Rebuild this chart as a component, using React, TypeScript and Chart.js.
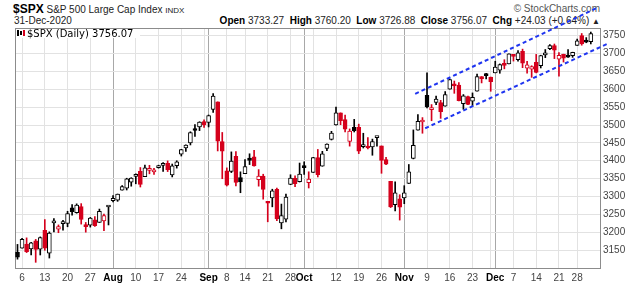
import React, { useEffect, useRef } from 'react';
import { Chart, registerables } from 'chart.js';

Chart.register(...registerables);

// ---- data (S&P 500, daily, Jul 2 – Dec 31 2020) ----
const PREV_CLOSE = 3115.86;

const dates = [
  'Jul 2', 'Jul 6', 'Jul 7', 'Jul 8', 'Jul 9', 'Jul 10', 'Jul 13', 'Jul 14', 'Jul 15', 'Jul 16', 'Jul 17',
  'Jul 20', 'Jul 21', 'Jul 22', 'Jul 23', 'Jul 24', 'Jul 27', 'Jul 28', 'Jul 29', 'Jul 30', 'Jul 31',
  'Aug 3', 'Aug 4', 'Aug 5', 'Aug 6', 'Aug 7', 'Aug 10', 'Aug 11', 'Aug 12', 'Aug 13', 'Aug 14',
  'Aug 17', 'Aug 18', 'Aug 19', 'Aug 20', 'Aug 21', 'Aug 24', 'Aug 25', 'Aug 26', 'Aug 27', 'Aug 28', 'Aug 31',
  'Sep 1', 'Sep 2', 'Sep 3', 'Sep 4', 'Sep 8', 'Sep 9', 'Sep 10', 'Sep 11', 'Sep 14', 'Sep 15', 'Sep 16',
  'Sep 17', 'Sep 18', 'Sep 21', 'Sep 22', 'Sep 23', 'Sep 24', 'Sep 25', 'Sep 28', 'Sep 29', 'Sep 30',
  'Oct 1', 'Oct 2', 'Oct 5', 'Oct 6', 'Oct 7', 'Oct 8', 'Oct 9', 'Oct 12', 'Oct 13', 'Oct 14', 'Oct 15',
  'Oct 16', 'Oct 19', 'Oct 20', 'Oct 21', 'Oct 22', 'Oct 23', 'Oct 26', 'Oct 27', 'Oct 28', 'Oct 29', 'Oct 30',
  'Nov 2', 'Nov 3', 'Nov 4', 'Nov 5', 'Nov 6', 'Nov 9', 'Nov 10', 'Nov 11', 'Nov 12', 'Nov 13', 'Nov 16',
  'Nov 17', 'Nov 18', 'Nov 19', 'Nov 20', 'Nov 23', 'Nov 24', 'Nov 25', 'Nov 27', 'Nov 30',
  'Dec 1', 'Dec 2', 'Dec 3', 'Dec 4', 'Dec 7', 'Dec 8', 'Dec 9', 'Dec 10', 'Dec 11', 'Dec 14', 'Dec 15',
  'Dec 16', 'Dec 17', 'Dec 18', 'Dec 21', 'Dec 22', 'Dec 23', 'Dec 24', 'Dec 28', 'Dec 29', 'Dec 30', 'Dec 31',
];

const opens = [
  3143.64, 3155.29, 3166.44, 3153.07, 3176.17, 3152.47, 3205.08, 3141.11, 3225.98, 3208.36, 3224.21,
  3224.29, 3268.52, 3254.86, 3271.64, 3218.58, 3219.84, 3234.27, 3227.22, 3231.76, 3270.45,
  3288.26, 3289.92, 3317.37, 3323.17, 3340.05, 3356.04, 3370.34, 3355.46, 3372.95, 3368.66,
  3380.86, 3387.04, 3392.51, 3360.48, 3386.01, 3418.09, 3435.95, 3449.97, 3485.14, 3494.69, 3509.73,
  3507.44, 3543.76, 3564.74, 3453.6, 3371.88, 3369.82, 3412.56, 3352.7, 3363.56, 3407.73, 3411.23,
  3346.86, 3357.38, 3285.57, 3295.75, 3320.11, 3226.14, 3236.66, 3333.9, 3350.92, 3341.21,
  3385.87, 3338.94, 3367.27, 3408.74, 3384.56, 3434.28, 3459.67, 3500.02, 3534.01, 3515.47, 3453.72,
  3493.5, 3493.66, 3439.38, 3439.91, 3438.5, 3464.9, 3441.42, 3403.15, 3342.48, 3277.17, 3293.59,
  3296.2, 3336.25, 3406.46, 3485.74, 3508.34, 3583.04, 3543.26, 3563.22, 3562.67, 3552.57, 3600.16,
  3610.31, 3612.09, 3559.41, 3579.31, 3566.82, 3594.52, 3635.5, 3638.55, 3634.18,
  3645.87, 3653.78, 3668.28, 3670.94, 3694.73, 3683.05, 3705.98, 3659.13, 3656.08, 3675.27, 3666.41,
  3696.25, 3713.65, 3722.39, 3684.28, 3698.08, 3693.42, 3694.03, 3723.03, 3750.01, 3736.19, 3733.27,
];

const highs = [
  3165.81, 3182.59, 3184.15, 3171.8, 3179.78, 3186.82, 3235.32, 3200.95, 3238.28, 3220.39, 3233.52,
  3258.61, 3277.29, 3279.32, 3279.99, 3227.26, 3241.43, 3243.72, 3264.74, 3250.92, 3272.17,
  3302.73, 3306.84, 3330.77, 3351.03, 3352.54, 3363.29, 3381.01, 3387.89, 3387.24, 3378.51,
  3387.59, 3395.06, 3399.54, 3390.8, 3399.96, 3432.09, 3444.21, 3481.07, 3501.38, 3509.23, 3514.77,
  3528.03, 3588.11, 3564.85, 3479.15, 3379.97, 3424.77, 3425.55, 3368.95, 3402.93, 3419.48, 3428.92,
  3375.17, 3362.27, 3285.57, 3320.31, 3323.35, 3278.7, 3306.88, 3360.74, 3357.92, 3393.56,
  3397.18, 3369.1, 3409.57, 3431.56, 3426.26, 3447.28, 3482.34, 3549.85, 3534.01, 3527.94, 3489.08,
  3515.76, 3502.42, 3476.93, 3464.86, 3460.53, 3466.46, 3441.42, 3409.51, 3342.48, 3341.05, 3304.93,
  3330.14, 3389.49, 3486.25, 3529.05, 3520.76, 3645.99, 3557.22, 3581.16, 3569.02, 3593.66, 3628.51,
  3623.11, 3619.09, 3585.22, 3581.23, 3589.81, 3642.31, 3635.5, 3644.31, 3634.18,
  3678.45, 3670.96, 3682.73, 3699.2, 3697.41, 3708.45, 3712.39, 3678.49, 3665.91, 3697.61, 3695.29,
  3711.27, 3725.12, 3726.7, 3702.9, 3698.26, 3711.24, 3703.82, 3740.51, 3756.12, 3744.63, 3760.2,
];

const lows = [
  3124.52, 3155.29, 3142.93, 3136.53, 3115.7, 3136.22, 3149.43, 3127.66, 3200.76, 3198.59, 3205.65,
  3215.16, 3247.77, 3253.1, 3222.66, 3200.05, 3214.25, 3216.17, 3227.22, 3204.13, 3220.26,
  3284.53, 3286.37, 3317.37, 3318.14, 3328.72, 3335.44, 3326.44, 3355.46, 3363.35, 3361.64,
  3379.22, 3370.15, 3369.66, 3354.69, 3379.31, 3413.13, 3425.84, 3444.15, 3468.35, 3484.32, 3493.25,
  3494.6, 3535.23, 3427.41, 3349.63, 3329.27, 3366.84, 3329.25, 3310.47, 3363.56, 3389.25, 3384.45,
  3328.82, 3292.4, 3229.1, 3270.95, 3232.57, 3209.45, 3228.44, 3332.91, 3327.54, 3340.47,
  3361.39, 3323.69, 3367.27, 3354.54, 3384.56, 3428.15, 3458.07, 3499.61, 3500.86, 3480.55, 3440.89,
  3480.45, 3419.93, 3435.65, 3433.06, 3415.34, 3440.45, 3364.86, 3388.71, 3268.89, 3259.82, 3233.94,
  3279.74, 3336.25, 3405.17, 3485.74, 3476.93, 3547.48, 3511.91, 3557.0, 3518.58, 3552.57, 3600.16,
  3588.68, 3567.33, 3543.84, 3556.85, 3552.77, 3594.52, 3617.76, 3629.33, 3594.39,
  3645.87, 3644.84, 3657.17, 3670.94, 3678.88, 3678.83, 3660.54, 3645.18, 3633.4, 3645.84, 3659.62,
  3688.57, 3710.87, 3685.84, 3636.48, 3676.16, 3689.28, 3689.32, 3723.03, 3723.31, 3730.21, 3726.88,
];

const closes = [
  3130.01, 3179.72, 3145.32, 3169.94, 3152.05, 3185.04, 3155.22, 3197.52, 3226.56, 3215.57, 3224.73,
  3251.84, 3257.3, 3276.02, 3235.66, 3215.63, 3239.41, 3218.44, 3258.44, 3246.22, 3271.12,
  3294.61, 3306.51, 3327.77, 3349.16, 3351.28, 3360.47, 3333.69, 3380.35, 3373.43, 3372.85,
  3381.99, 3389.78, 3374.85, 3385.51, 3397.16, 3431.28, 3443.62, 3478.73, 3484.55, 3508.01, 3500.31,
  3526.65, 3580.84, 3455.06, 3426.96, 3331.84, 3398.96, 3339.19, 3340.97, 3383.54, 3401.2, 3385.49,
  3357.01, 3319.47, 3281.06, 3315.57, 3236.92, 3246.59, 3298.46, 3351.6, 3335.47, 3363.0,
  3380.8, 3348.42, 3408.6, 3360.97, 3419.44, 3446.83, 3477.14, 3534.22, 3511.93, 3488.67, 3483.34,
  3483.81, 3426.92, 3443.12, 3435.56, 3453.49, 3465.39, 3400.97, 3390.68, 3271.03, 3310.11, 3269.96,
  3310.24, 3369.16, 3443.44, 3510.45, 3509.44, 3550.5, 3545.53, 3572.66, 3537.01, 3585.15, 3626.91,
  3609.53, 3567.79, 3581.87, 3557.54, 3577.59, 3635.41, 3629.65, 3638.35, 3621.63,
  3662.45, 3669.01, 3666.72, 3699.12, 3691.96, 3702.25, 3672.82, 3668.1, 3663.46, 3647.49, 3694.62,
  3701.17, 3722.48, 3709.41, 3694.92, 3687.26, 3690.01, 3703.06, 3735.36, 3727.04, 3732.04, 3756.07,
];

// trend channel (bar index, price)
const upperTrendX = [87.4, 127.4];
const upperTrendY = [3587, 3828];
const lowerTrendX = [89.6, 129.6];
const lowerTrendY = [3491, 3727];

// axis ticks
const xTickIdx = [1, 6, 11, 16, 21, 26, 31, 36, 41, 42, 46, 50, 55, 60, 63, 65, 70, 75, 80, 85, 90, 95, 100, 104, 105, 109, 114, 119, 123];
const xTickText = ['6', '13', '20', '27', 'Aug', '10', '17', '24', '', 'Sep', '8', '14', '21', '28', 'Oct', '', '12', '19', '26', 'Nov', '9', '16', '23', '', 'Dec', '7', '14', '21', '28'];
const monthTickIdx = [21, 42, 63, 85, 105];
const yTicks = [3150, 3200, 3250, 3300, 3350, 3400, 3450, 3500, 3550, 3600, 3650, 3700, 3750];

const FONT = '"Liberation Sans", Arial, sans-serif';
const RED = '#d5001c';
const BLACK = '#000000';

const frame = {
  id: 'frame',
  beforeDatasetsDraw(chart: any) {
    const { ctx, chartArea } = chart;
    ctx.save();
    ctx.strokeStyle = '#8c8c8c';
    ctx.lineWidth = 1;
    ctx.strokeRect(chartArea.left + 0.5, chartArea.top + 0.5, chartArea.right - chartArea.left - 1, chartArea.bottom - chartArea.top - 1);
    ctx.restore();
  },
};

export default function App() {
  const ref = useRef<HTMLCanvasElement>(null);

  useEffect(() => {
    const idx = closes.map((_, i) => i);
    const col = closes.map((c, i) => (c >= (i ? closes[i - 1] : PREV_CLOSE) ? BLACK : RED));
    const fill = closes.map((c, i) => (c < opens[i] ? col[i] : '#ffffff'));

    const chart = new Chart(ref.current as HTMLCanvasElement, {
      type: 'bar',
      data: {
        datasets: [
          {
            type: 'line',
            label: 'upper',
            data: upperTrendX.map((x, i) => ({ x, y: upperTrendY[i] })),
            borderColor: '#1f35f0',
            borderWidth: 2,
            borderDash: [4, 3],
            pointRadius: 0,
            fill: false,
            clip: false,
            order: -2,
          } as any,
          {
            type: 'line',
            label: 'lower',
            data: lowerTrendX.map((x, i) => ({ x, y: lowerTrendY[i] })),
            borderColor: '#1f35f0',
            borderWidth: 2,
            borderDash: [4, 3],
            pointRadius: 0,
            fill: false,
            clip: false,
            order: -1,
          } as any,
          {
            type: 'bar',
            label: 'body',
            data: idx.map((i) => ({ x: i, y: [opens[i], closes[i]] })),
            backgroundColor: fill,
            borderColor: col,
            borderWidth: 1,
            borderSkipped: false,
            barThickness: 4,
            minBarLength: 2,
            grouped: false,
            order: 0,
          } as any,
          {
            type: 'bar',
            label: 'wick',
            data: idx.map((i) => ({ x: i, y: [lows[i], highs[i]] })),
            backgroundColor: col,
            borderWidth: 0,
            barThickness: 1,
            grouped: false,
            order: 1,
          } as any,
        ],
      },
      options: {
        animation: false,
        responsive: false,
        maintainAspectRatio: false,
        layout: { padding: { left: 15, top: 28, right: 0, bottom: 0 } },
        plugins: { legend: { display: false }, tooltip: { enabled: false } },
        scales: {
          x: {
            type: 'linear',
            min: -0.55,
            max: 128.24,
            offset: false,
            position: 'bottom',
            afterBuildTicks: (s: any) => {
              s.ticks = xTickIdx.map((v) => ({ value: v }));
            },
            afterFit: (s: any) => {
              s.height = 16;
            },
            grid: {
              offset: false,
              drawTicks: false,
              color: (c: any) => (c.tick && monthTickIdx.includes(c.tick.value) ? '#a8a8a8' : '#e2e2e2'),
            },
            border: { display: false },
            ticks: {
              autoSkip: false,
              maxRotation: 0,
              padding: 3,
              font: (c: any) => ({
                family: FONT,
                size: 10,
                weight: c.tick && monthTickIdx.includes(c.tick.value) ? 'bold' : 'normal',
              }),
              color: (c: any) => (c.tick && monthTickIdx.includes(c.tick.value) ? '#000' : '#444'),
              callback: (v: any) => {
                const k = xTickIdx.indexOf(v);
                return k >= 0 ? xTickText[k] : '';
              },
            },
          },
          y: {
            type: 'linear',
            position: 'right',
            min: 3097,
            max: 3771.5,
            afterBuildTicks: (s: any) => {
              s.ticks = yTicks.map((v) => ({ value: v }));
            },
            afterFit: (s: any) => {
              s.width = 39;
            },
            grid: { drawTicks: false, color: '#e2e2e2' },
            border: { display: false },
            ticks: {
              padding: 2,
              font: { family: FONT, size: 10 },
              color: '#444',
              callback: (v: any) => String(v),
            },
          },
        },
      } as any,
      plugins: [frame],
    });
    return () => chart.destroy();
  }, []);

  const hdr: React.CSSProperties = { position: 'absolute', whiteSpace: 'nowrap', fontFamily: FONT, color: '#000', lineHeight: '12px' };

  return (
    <div style={{ position: 'fixed', left: 0, top: 0, width: 640, height: 285, background: '#fff', overflow: 'hidden' }}>
      <div style={{ ...hdr, left: 13, top: 2, zIndex: 0 }}>
        <span style={{ fontSize: 12, fontWeight: 'bold' }}>$SPX</span>
        <span style={{ fontSize: 10, color: '#222' }}> S&amp;P 500 Large Cap Index </span>
        <span style={{ fontSize: 8, color: '#222' }}>INDX</span>
      </div>
      <div style={{ ...hdr, left: 14, top: 15, fontSize: 10, color: '#222' }}>31-Dec-2020</div>
      <div style={{ ...hdr, right: 40, top: 15, fontSize: 10, color: '#222' }}>
        <b style={{ color: '#000' }}>Open</b> 3733.27&nbsp; <b style={{ color: '#000' }}>High</b> 3760.20&nbsp; <b style={{ color: '#000' }}>Low</b> 3726.88&nbsp; <b style={{ color: '#000' }}>Close</b> 3756.07&nbsp; <b style={{ color: '#000' }}>Chg</b> +24.03 (+0.64%) <span style={{ fontSize: 8 }}>▲</span>
      </div>
      <div style={{ ...hdr, right: 40, top: 3, fontSize: 10, color: '#555' }}>© StockCharts.com</div>
      <canvas ref={ref} width={640} height={285} style={{ position: 'absolute', left: 0, top: 0, zIndex: 1 }} />
      <div style={{ position: 'absolute', left: 16, top: 29, height: 9, width: 124, background: '#fff', zIndex: 2, whiteSpace: 'nowrap', fontFamily: '"DejaVu Sans", Verdana, sans-serif', fontSize: 10, lineHeight: '9px', color: '#000' }}>
        <span style={{ display: 'inline-block', width: 11, height: 8, position: 'relative', verticalAlign: 'top' }}>
          <span style={{ position: 'absolute', left: 1, top: 1, width: 2, height: 6, background: '#000' }} />
          <span style={{ position: 'absolute', left: 4, top: 2, width: 2, height: 4, background: '#000' }} />
          <span style={{ position: 'absolute', left: 7, top: 1, width: 2, height: 6, background: RED }} />
        </span>
        <span>$SPX (Daily) 3756.07</span>
      </div>
    </div>
  );
}
